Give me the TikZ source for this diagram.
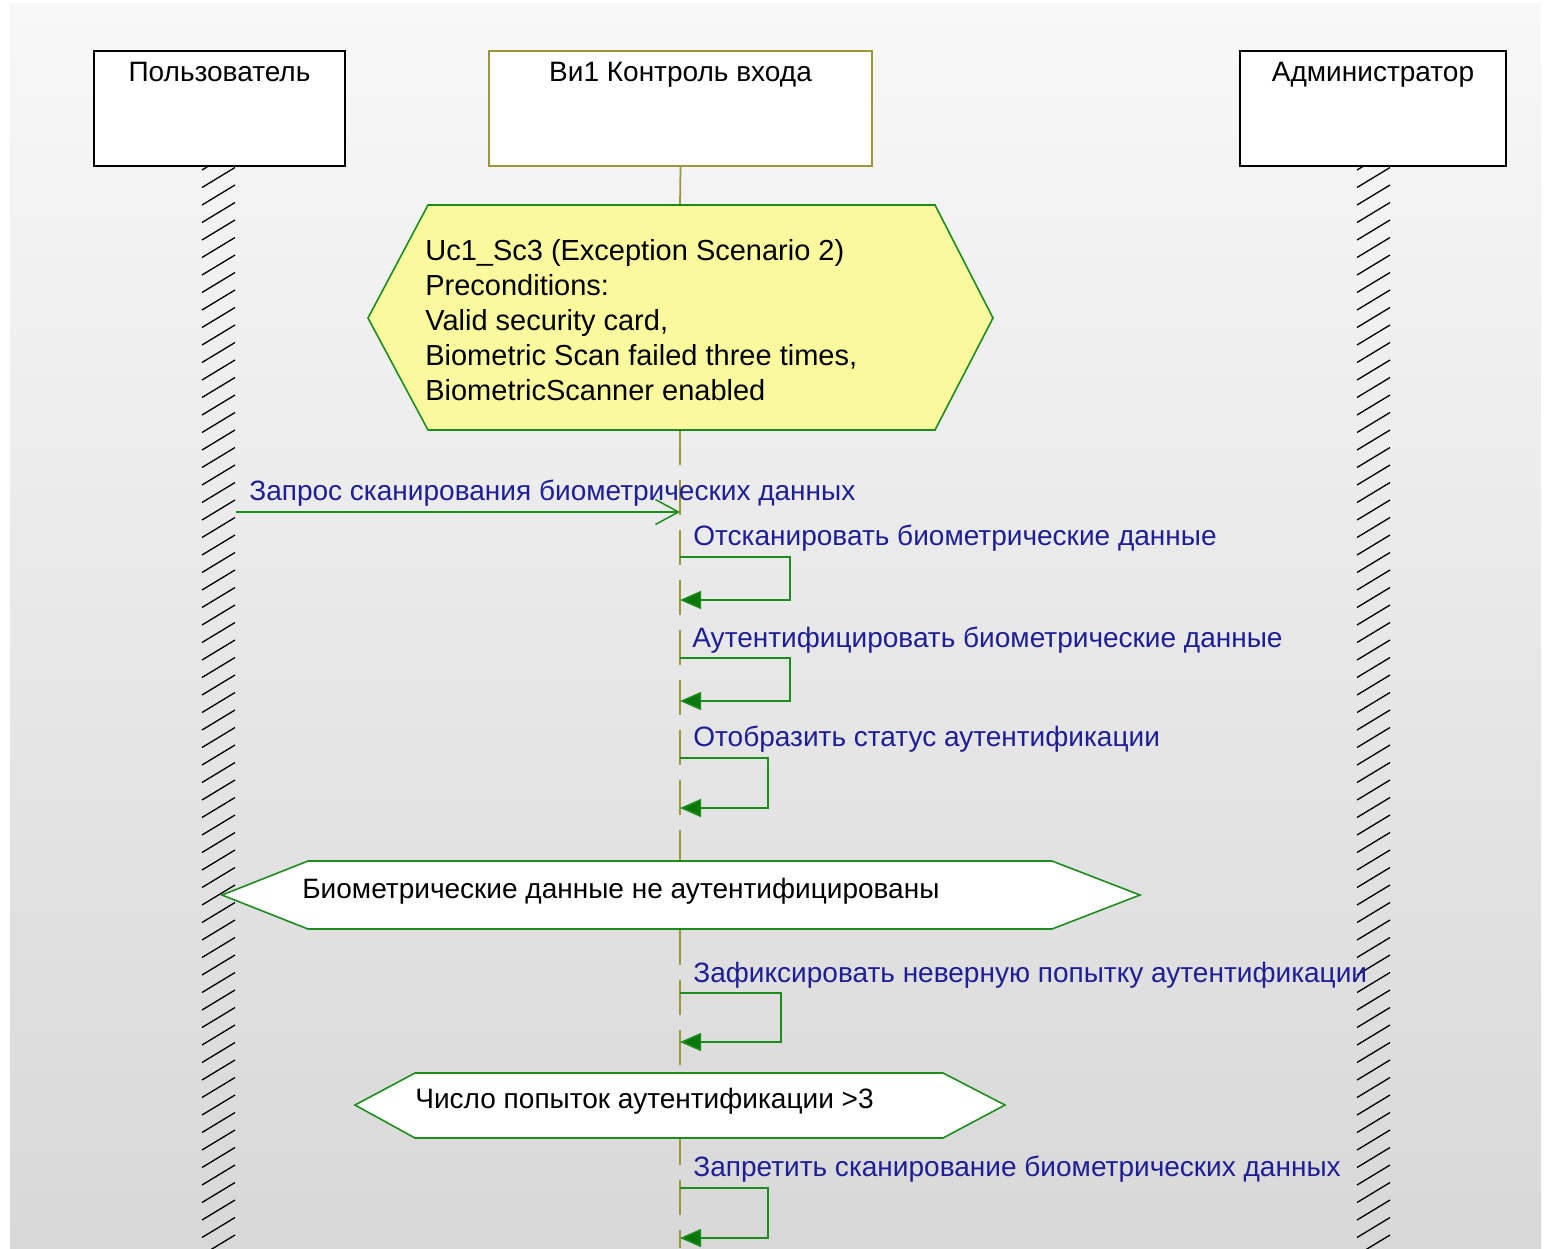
\documentclass[tikz,border=0pt]{standalone}
\usepackage{fontspec}
\setmainfont{Liberation Sans}
\usepackage{xcolor}
\usetikzlibrary{arrows.meta,positioning,fit}

\definecolor{msgblue}{HTML}{1E1E96}
\definecolor{linkgreen}{HTML}{1C8C1C}
\definecolor{tipgreen}{HTML}{0A780A}
\definecolor{lifeolive}{HTML}{9C963A}
\definecolor{condyellow}{HTML}{FBF99E}
\definecolor{bgtop}{HTML}{F8F8F8}
\definecolor{bgbottom}{HTML}{D8D8D8}
\newcommand{\diagfont}{\fontsize{16.5}{19.9}\selectfont}
\newcommand{\cyrfont}{\fontsize{15.95}{19.9}\selectfont}

\begin{document}
\begin{tikzpicture}[
    x=0.02cm, y=-0.02cm,
    actorbox/.style={draw=black, line width=0.9pt, fill=white, inner sep=0pt},
    ctrlbox/.style={actorbox, draw=lifeolive},
    actorlbl/.style={font=\cyrfont, anchor=base, inner sep=0pt},
    lifeline/.style={draw=lifeolive, line width=1pt},
    hatchline/.style={line width=0.75pt, black},
    condhex/.style={draw=linkgreen, line width=0.9pt, line join=miter},
    condtxt/.style={font=\diagfont, align=left, inner sep=0pt},
    msglbl/.style={font=\cyrfont, text=msgblue, inner sep=0pt, anchor=base west},
    callmsg/.style={draw=linkgreen, line width=0.85pt,
                    -{Straight Barb[length=0.46cm, width=0.5cm]}},
    selfmsg/.style={draw=linkgreen, line width=0.85pt,
                    -{Triangle[length=0.42cm, width=0.36cm, fill=tipgreen]}},
  ]
    \useasboundingbox (0,0) rectangle (1547,1248);
    \shade[top color=bgtop, bottom color=bgbottom] (10,3) rectangle (1541,1248);

    % Actors
    \node[actorbox, fit={(94,51) (345,166)}] (user) {};
    \node[actorlbl] at ([yshift=-0.62cm]user.north) {Пользователь};
    \node[ctrlbox, fit={(489,51) (872,166)}] (ctrl) {};
    \node[actorlbl] at ([yshift=-0.62cm]ctrl.north) {Ви1 Контроль входа};
    \node[actorbox, fit={(1240,51) (1506,166)}] (admin) {};
    \node[actorlbl] at ([yshift=-0.62cm]admin.north) {Администратор};

    % Hatched lifelines
    \node[fit={(202,166) (236,1248)}, inner sep=0pt] (userlife) {};
    \node[fit={(1357,166) (1391,1248)}, inner sep=0pt] (adminlife) {};
    \begin{scope}
      \clip (userlife.north west) rectangle (userlife.south east);
      \foreach \y in {150,167.5,...,1270}
        \draw[hatchline] (202,{\y+20}) -- (235,\y);
    \end{scope}
    \begin{scope}
      \clip (adminlife.north west) rectangle (adminlife.south east);
      \foreach \y in {150,167.5,...,1270}
        \draw[hatchline] (1357,{\y+20}) -- (1390,\y);
    \end{scope}

    % Control lifeline
    \coordinate (preN) at (680,205);
    \coordinate (preS) at (680,430);
    \coordinate (ctrlend) at (680,1248);
    \draw[lifeline] (ctrl.south) -- (preN);
    \draw[lifeline, dash pattern=on 0.7cm off 0.3cm] (preS) -- (ctrlend);

    % Preconditions
    \draw[condhex, fill=condyellow] (428,205) -- (935,205) -- (993,318)
          -- (935,430) -- (428,430) -- (368,318) -- cycle;
    \node[condtxt, anchor=north west] (pre) at (425,239)
          {Uc1\_Sc3 (Exception Scenario 2)\\
           Preconditions:\\
           Valid security card,\\
           Biometric Scan failed three times,\\
           BiometricScanner enabled};

    % Messages
    \coordinate (m1) at (680,512);
    \draw[callmsg] (userlife.east |- m1) -- (m1);
    \node[msglbl] (l1) at (249,500) {Запрос сканирования биометрических данных};

    \coordinate (s1a) at (680,557);
    \coordinate (s1b) at (680,600);
    \draw[selfmsg] (s1a) -- ++(110,0) |- (s1b);
    \node[msglbl] (l2) at (693,545) {Отсканировать биометрические данные};

    \coordinate (s2a) at (680,658);
    \coordinate (s2b) at (680,701);
    \draw[selfmsg] (s2a) -- ++(110,0) |- (s2b);
    \node[msglbl] (l3) at (692,647) {Аутентифицировать биометрические данные};

    \coordinate (s3a) at (680,758);
    \coordinate (s3b) at (680,808);
    \draw[selfmsg] (s3a) -- ++(88,0) |- (s3b);
    \node[msglbl] (l4) at (693,746) {Отобразить статус аутентификации};

    % Condition: not authenticated
    \draw[condhex, fill=white] (308,861) -- (1052,861) -- (1140,895)
          -- (1052,929) -- (308,929) -- (222,895) -- cycle;
    \node[condtxt, font=\cyrfont, anchor=base west] (nauth) at (302,898)
          {Биометрические данные не аутентифицированы};

    \coordinate (s4a) at (680,993);
    \coordinate (s4b) at (680,1042);
    \draw[selfmsg] (s4a) -- ++(101,0) |- (s4b);
    \node[msglbl] (l5) at (693,982) {Зафиксировать неверную попытку аутентификации};

    % Condition: too many attempts
    \draw[condhex, fill=white] (415,1073) -- (943,1073) -- (1005,1105)
          -- (943,1138) -- (415,1138) -- (355,1105) -- cycle;
    \node[condtxt, font=\cyrfont, anchor=base west] (limit) at (415,1108)
          {Число попыток аутентификации >3};

    \coordinate (s5a) at (680,1188);
    \coordinate (s5b) at (680,1238);
    \draw[selfmsg] (s5a) -- ++(88,0) |- (s5b);
    \node[msglbl] (l6) at (693,1176) {Запретить сканирование биометрических данных};
\end{tikzpicture}
\end{document}
